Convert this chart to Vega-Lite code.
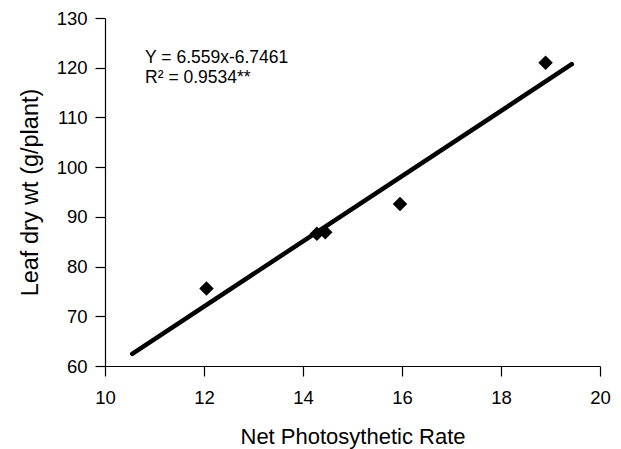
{
  "$schema": "https://vega.github.io/schema/vega-lite/v6.json",
  "autosize": {"type": "none"},
  "padding": {"left": 105, "top": 18, "right": 21, "bottom": 83},
  "width": 495,
  "height": 348,
  "background": "white",
  "config": {
    "view": {"stroke": null},
    "font": "Liberation Sans",
    "axis": {
      "grid": false,
      "domainColor": "black",
      "domainWidth": 1.2,
      "tickColor": "black",
      "tickWidth": 1.2,
      "tickSize": 10,
      "labelColor": "black",
      "labelFont": "Liberation Sans",
      "labelFontSize": 18.5,
      "titleColor": "black",
      "titleFont": "Liberation Sans",
      "titleFontSize": 22,
      "titleFontWeight": "normal"
    }
  },
  "datasets": {
    "pts": [
      {"rate": 12.05, "wt": 75.6},
      {"rate": 14.28, "wt": 86.6},
      {"rate": 14.45, "wt": 86.9},
      {"rate": 15.96, "wt": 92.6},
      {"rate": 18.9, "wt": 121.0}
    ],
    "fit": [
      {"rate": 10.55, "wt": 62.45},
      {"rate": 19.43, "wt": 120.7}
    ],
    "notes": [
      {"rate": 10.81, "wt": 120.85, "label": "Y = 6.559x-6.7461\nR² = 0.9534**"}
    ]
  },
  "layer": [
    {
      "data": {"name": "fit"},
      "mark": {"type": "line", "color": "black", "strokeWidth": 4.5, "strokeCap": "round"},
      "encoding": {
        "x": {
          "field": "rate", "type": "quantitative",
          "scale": {"domain": [10, 20], "nice": false, "zero": false},
          "axis": {
            "title": "Net Photosythetic Rate",
            "values": [10, 12, 14, 16, 18, 20],
            "labelPadding": 12,
            "labelFlush": false,
            "titleFontSize": 22,
            "titleX": 247.5,
            "titleY": 77,
            "titleAlign": "center",
            "titleBaseline": "alphabetic"
          }
        },
        "y": {
          "field": "wt", "type": "quantitative",
          "scale": {"domain": [60, 130], "nice": false, "zero": false},
          "axis": {
            "title": "Leaf dry wt (g/plant)",
            "values": [60, 70, 80, 90, 100, 110, 120, 130],
            "labelPadding": 8,
            "labelFlush": false,
            "titleFontSize": 23.5,
            "titleX": -68,
            "titleY": 174,
            "titleAngle": -90,
            "titleAlign": "center",
            "titleBaseline": "alphabetic"
          }
        }
      }
    },
    {
      "data": {"name": "pts"},
      "mark": {"type": "point", "shape": "diamond", "filled": true, "color": "black", "size": 210, "opacity": 1},
      "encoding": {
        "x": {"field": "rate", "type": "quantitative"},
        "y": {"field": "wt", "type": "quantitative"}
      }
    },
    {
      "data": {"name": "notes"},
      "mark": {"type": "text", "align": "left", "baseline": "alphabetic", "fontSize": 17.5, "lineBreak": "\n", "lineHeight": 20, "color": "black", "font": "Liberation Sans"},
      "encoding": {
        "x": {"field": "rate", "type": "quantitative"},
        "y": {"field": "wt", "type": "quantitative"},
        "text": {"field": "label"}
      }
    }
  ]
}
